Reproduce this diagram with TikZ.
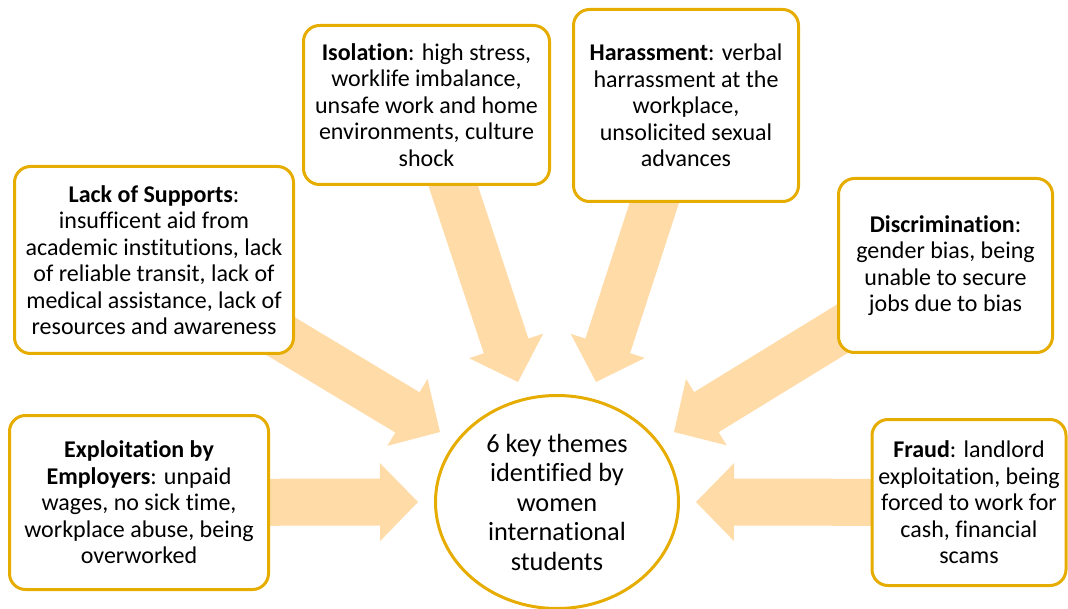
\documentclass[tikz,border=0pt]{standalone}
\usepackage{fontspec}
\setmainfont{Carlito}[Ligatures=CommonOff]
\usetikzlibrary{calc,backgrounds,shapes.geometric}

\definecolor{goldline}{RGB}{230,172,0}
\definecolor{peach}{RGB}{255,219,168}

% Block arrow from #1 (tail) to #2 (tip): shaft 47 wide, head 78 wide and 38 long
\newcommand{\fatarrow}[2]{%
  \path (#1) coordinate (fa-s) ($(#2)!38pt!(#1)$) coordinate (fa-h);
  \fill[peach]
    ($(fa-s)!23.5pt!90:(fa-h)$) -- ($(fa-h)!23.5pt!-90:(fa-s)$) --
    ($(fa-h)!39pt!-90:(fa-s)$) -- (#2) -- ($(fa-h)!39pt!90:(fa-s)$) --
    ($(fa-h)!23.5pt!90:(fa-s)$) -- ($(fa-s)!23.5pt!-90:(fa-h)$) -- cycle;
}

\tikzset{
  themebox/.style={draw=goldline, line width=3pt, fill=white, rounded corners=16pt,
    align=center, inner sep=0pt, font=\fontsize{24}{26.5}\selectfont},
  hub/.style={draw=goldline, line width=3pt, fill=white, ellipse,
    align=center, inner sep=0pt, font=\fontsize{26.3}{29.5}\selectfont}
}

\begin{document}
\begin{tikzpicture}[x=1pt,y=-1pt]
\useasboundingbox (0,0) rectangle (1068,609);

% central ellipse
\node[hub, minimum width=243pt, minimum height=213pt] (core) at (557,502)
  {6 key themes\\identified by\\women\\international\\students};

% theme boxes
\node[themebox, minimum width=246pt, minimum height=159pt] (isol) at (426.5,105)
  {\textbf{Isolation}: high stress,\\worklife imbalance,\\unsafe work and home\\environments, culture\\shock};
\node[themebox, minimum width=225pt, minimum height=192pt] (harass) at (686,105.5)
  {\textbf{Harassment}: verbal\\harrassment at the\\workplace,\\unsolicited sexual\\advances};
\node[themebox, minimum width=279pt, minimum height=187pt] (supp) at (154,260)
  {\textbf{Lack of Supports}:\\insufficent aid from\\academic institutions, lack\\of reliable transit, lack of\\medical assistance, lack of\\resources and awareness};
\node[themebox, minimum width=214pt, minimum height=174pt] (discr) at (945.5,265.5)
  {\textbf{Discrimination}:\\gender bias, being\\unable to secure\\jobs due to bias};
\node[themebox, minimum width=259pt, minimum height=174pt] (explo) at (139,502.5)
  {\textbf{Exploitation by}\\\textbf{Employers}: unpaid\\wages, no sick time,\\workplace abuse, being\\overworked};
\node[themebox, minimum width=194pt, minimum height=166pt] (fraud) at (969,502.5)
  {\textbf{Fraud}: landlord\\exploitation, being\\forced to work for\\cash, financial\\scams};

% arrow tips near the ellipse
\coordinate (tipIsol) at (518,382);
\coordinate (tipHar) at (596,382);
\coordinate (tipSupp) at (440,432);
\coordinate (tipDiscr) at (674,432);
\coordinate (tipExplo) at (418,502);
\coordinate (tipFraud) at (696,502);

% arrows pass underneath the boxes
\begin{scope}[on background layer]
  \fatarrow{isol.center}{tipIsol}
  \fatarrow{harass.center}{tipHar}
  \fatarrow{supp.center}{tipSupp}
  \fatarrow{discr.center}{tipDiscr}
  \fatarrow{explo.center}{tipExplo}
  \fatarrow{fraud.center}{tipFraud}
\end{scope}
\end{tikzpicture}
\end{document}
